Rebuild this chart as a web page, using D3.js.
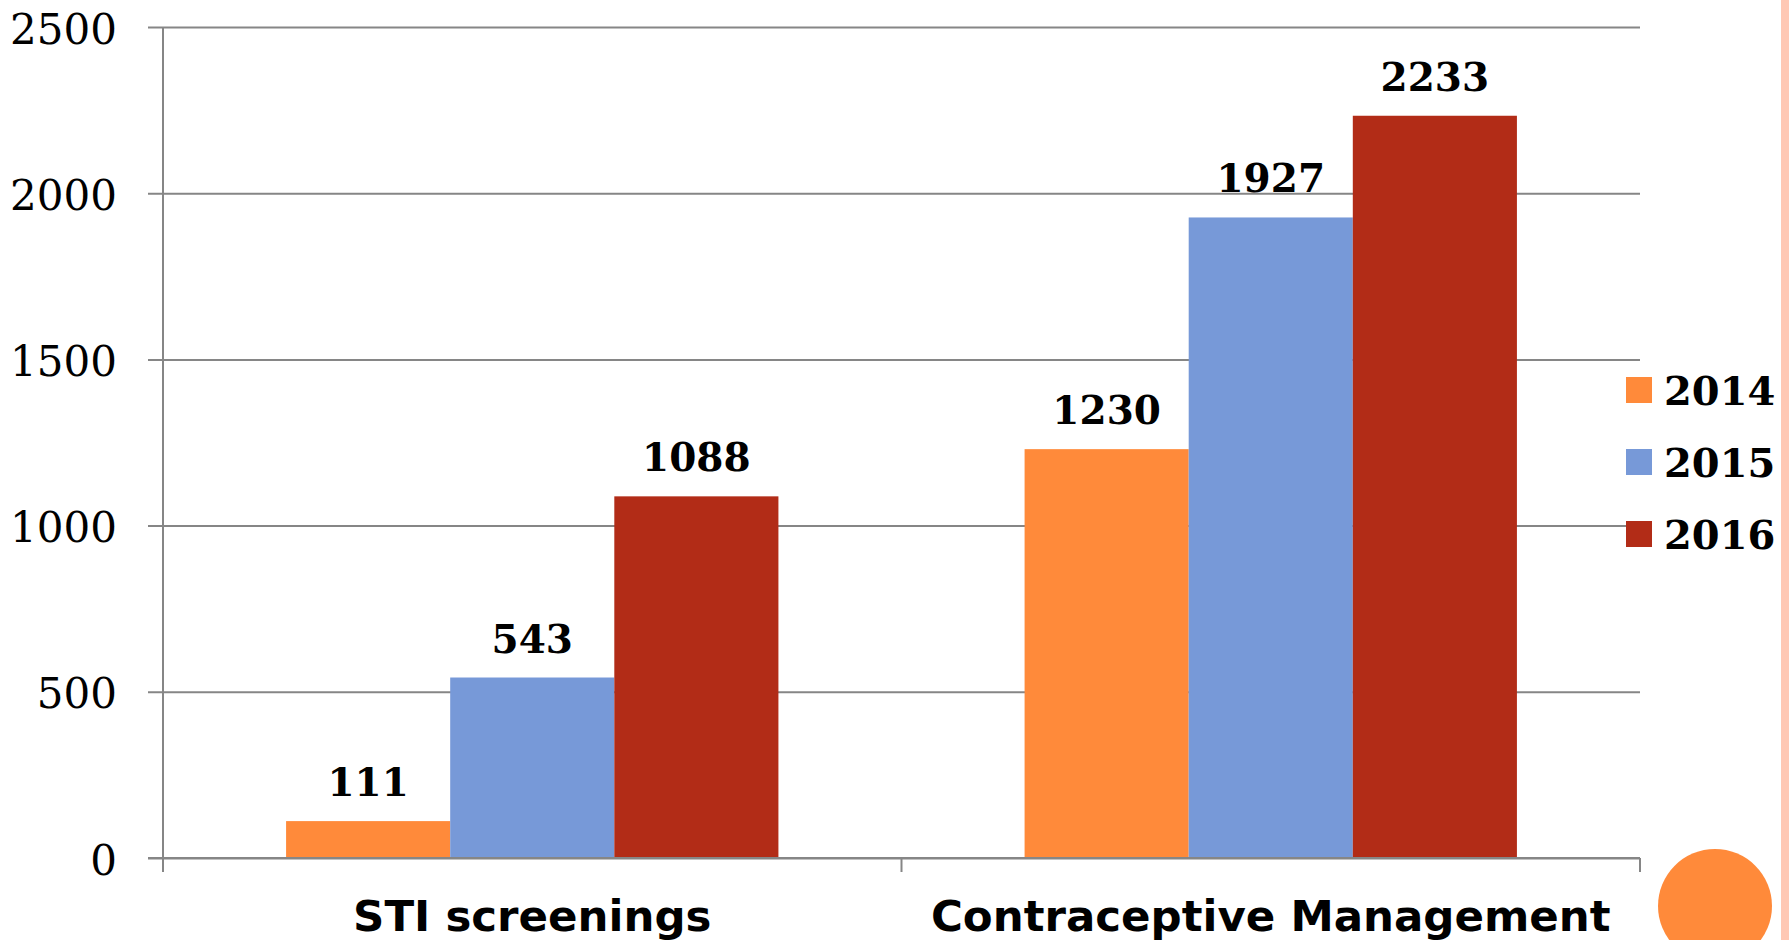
<!DOCTYPE html>
<html lang="en">
<head>
<meta charset="UTF-8">
<title>Services by year</title>
<style>
  html, body { margin: 0; padding: 0; background: #fff; }
  svg { display: block; }
</style>
</head>
<body>
<div id="container"></div>
<script src="https://cdn.jsdelivr.net/npm/d3@7"></script>
<script>
    const categories = ['STI screenings', 'Contraceptive Management']
    const seriesNames = ['2014', '2015', '2016']
    const values2014 = [111, 1230]
    const values2015 = [543, 1927]
    const values2016 = [1088, 2233]
    const yTicks = [0, 500, 1000, 1500, 2000, 2500]

    const seriesValues = [values2014, values2015, values2016]
    const colors = ['#FF8A3A', '#7799D8', '#B22C17']

    const width = 1792
    const height = 940
    const plotLeft = 163
    const plotRight = 1640
    const plotTop = 27
    const plotBottom = 858
    const gridColor = '#868686'
    const serif = "'DejaVu Serif', serif"

    const svg = d3.select('#container').append('svg')
        .attr('width', width)
        .attr('height', height)

    // slide decoration on the right
    svg.append('rect')
        .attr('x', 1781).attr('y', 0)
        .attr('width', 8).attr('height', height)
        .attr('fill', '#FFC8B4')
    svg.append('circle')
        .attr('cx', 1715).attr('cy', 906).attr('r', 57)
        .attr('fill', '#FF8A3A')

    const x = d3.scaleBand()
        .domain(categories)
        .range([plotLeft, plotRight])
        .paddingInner(1 / 3)
        .paddingOuter(1 / 6)

    const xs = d3.scaleBand()
        .domain(seriesNames)
        .range([0, x.bandwidth()])

    const y = d3.scaleLinear()
        .domain([0, 2500])
        .range([plotBottom, plotTop])

    // y axis with gridlines
    const yAxis = svg.append('g')
        .attr('transform', `translate(${plotLeft},0)`)
        .call(d3.axisLeft(y)
            .tickValues(yTicks)
            .tickFormat(d3.format('d'))
            .tickSize(-(plotRight - plotLeft))
            .tickSizeOuter(0)
            .tickPadding(0))
    yAxis.select('.domain').remove()
    yAxis.selectAll('.tick line')
        .attr('x1', -15)
        .attr('stroke', gridColor)
        .attr('stroke-width', 2)
    yAxis.selectAll('.tick text')
        .attr('x', -46)
        .attr('dy', '16')
        .attr('fill', '#000')
        .attr('font-family', serif)
        .attr('font-size', '42px')

    svg.append('line')
        .attr('x1', plotLeft).attr('x2', plotLeft)
        .attr('y1', plotTop).attr('y2', plotBottom + 14)
        .attr('stroke', gridColor)
        .attr('stroke-width', 2)

    // bars
    const groups = svg.append('g')
        .selectAll('g')
        .data(seriesNames)
        .join('g')
        .attr('fill', (d, i) => colors[i])

    groups.selectAll('rect')
        .data((s, si) => categories.map((c, ci) => ({c: c, s: s, v: seriesValues[si][ci]})))
        .join('rect')
        .attr('x', d => x(d.c) + xs(d.s))
        .attr('y', d => y(d.v))
        .attr('width', xs.bandwidth())
        .attr('height', d => y(0) - y(d.v))

    groups.selectAll('text')
        .data((s, si) => categories.map((c, ci) => ({c: c, s: s, v: seriesValues[si][ci]})))
        .join('text')
        .attr('x', d => x(d.c) + xs(d.s) + xs.bandwidth() / 2)
        .attr('y', d => y(d.v) - 25)
        .attr('text-anchor', 'middle')
        .attr('fill', '#000')
        .attr('font-family', serif)
        .attr('font-weight', 'bold')
        .attr('font-size', '39px')
        .text(d => d.v)

    // x axis line and category ticks
    svg.append('line')
        .attr('x1', plotLeft - 15).attr('x2', plotRight)
        .attr('y1', plotBottom).attr('y2', plotBottom)
        .attr('stroke', gridColor)
        .attr('stroke-width', 2)

    const catEdges = [plotLeft].concat(categories.map(c => x(c) + x.bandwidth() + x.step() * x.paddingInner() / 2))
    svg.append('g')
        .selectAll('line')
        .data(catEdges)
        .join('line')
        .attr('x1', d => d).attr('x2', d => d)
        .attr('y1', plotBottom).attr('y2', plotBottom + 14)
        .attr('stroke', gridColor)
        .attr('stroke-width', 2)

    svg.append('g')
        .selectAll('text')
        .data(categories)
        .join('text')
        .attr('x', d => x(d) + x.bandwidth() / 2)
        .attr('y', 931)
        .attr('text-anchor', 'middle')
        .attr('font-family', "'DejaVu Sans', sans-serif")
        .attr('font-weight', 'bold')
        .attr('font-size', '43.5px')
        .text(d => d)

    // legend
    const legend = svg.append('g')
        .selectAll('g')
        .data(seriesNames)
        .join('g')
        .attr('transform', (d, i) => `translate(1626,${390 + i * 72})`)

    legend.append('rect')
        .attr('x', 0).attr('y', -13)
        .attr('width', 26).attr('height', 26)
        .attr('fill', (d, i) => colors[i])

    legend.append('text')
        .attr('x', 38)
        .attr('y', 15)
        .attr('font-family', serif)
        .attr('font-weight', 'bold')
        .attr('font-size', '40px')
        .text(d => d)
</script>
</body>
</html>
